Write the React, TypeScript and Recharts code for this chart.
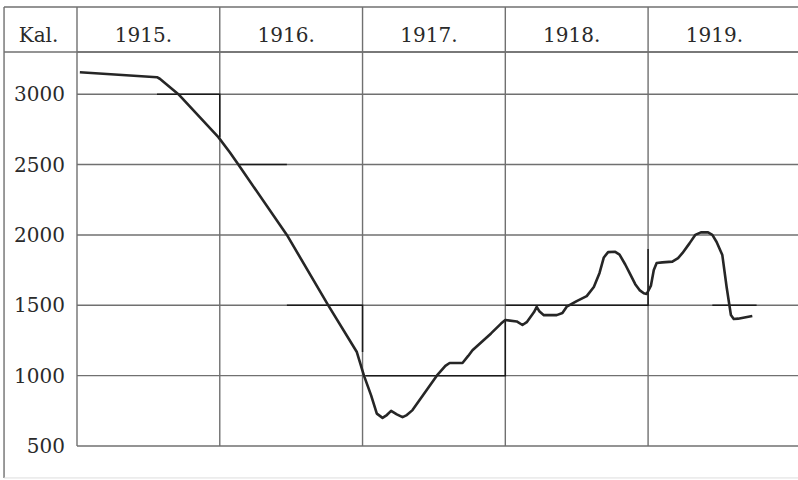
import { LineChart, Line, XAxis, YAxis, CartesianGrid, ReferenceLine } from "recharts";

// column boundaries and the header labels
const years = [1915, 1916, 1917, 1918, 1919];
const yearLabels = ["1915.", "1916.", "1917.", "1918.", "1919."];
const yTicks = [500, 1000, 1500, 2000, 2500, 3000];

// main curve (time in years, value in Kal.)
const times = [
  1915.02, 1915.56, 1915.58, 1915.71, 1915.99, 1916.07, 1916.13, 1916.47, 1916.76, 1916.96,
  1917.01, 1917.06, 1917.1, 1917.14, 1917.17, 1917.2, 1917.24, 1917.28, 1917.31, 1917.35,
  1917.52, 1917.58, 1917.61, 1917.7, 1917.74, 1917.77, 1917.9, 1917.97, 1918.0, 1918.08,
  1918.12, 1918.15, 1918.2, 1918.22, 1918.24, 1918.27, 1918.36, 1918.4, 1918.43, 1918.5,
  1918.57, 1918.62, 1918.66, 1918.69, 1918.72, 1918.77, 1918.8, 1918.84, 1918.87, 1918.91,
  1918.94, 1918.97, 1918.99, 1919.02, 1919.04, 1919.06, 1919.1, 1919.17, 1919.21, 1919.24,
  1919.29, 1919.33, 1919.37, 1919.42, 1919.45, 1919.48, 1919.52, 1919.55, 1919.58, 1919.6,
  1919.63, 1919.73,
];
const values = [
  3156, 3121, 3110, 3000, 2695, 2588, 2500, 2000, 1500, 1168,
  1000, 860, 730, 700, 720, 750, 725, 705, 720, 755,
  1000, 1070, 1090, 1090, 1140, 1180, 1300, 1370, 1395, 1385,
  1360, 1380, 1450, 1488, 1455, 1430, 1430, 1445, 1490, 1530,
  1565, 1630, 1730, 1840, 1878, 1880, 1860, 1790, 1730, 1650,
  1608, 1585, 1580, 1640, 1750, 1800, 1805, 1810, 1835, 1870,
  1940, 2000, 2018, 2018, 2000, 1950, 1857, 1630, 1431, 1403,
  1405, 1424,
];

// thin level segments (null breaks the line)
const levelTimes = [
  1915.56, 1916.0, 1916.0, 1916.05,
  1916.13, 1916.47, 1916.47,
  1916.47, 1917.0, 1917.0, 1917.01,
  1917.02, 1918.0, 1918.0, 1918.0,
  1918.0, 1919.0, 1919.0, 1919.2,
  1919.45, 1919.76,
];
const levelValues = [
  3000, 3000, 2695, null,
  2500, 2500, null,
  1500, 1500, 1168, null,
  1000, 1000, 1395, null,
  1500, 1500, 1900, null,
  1500, 1500,
];

const data = times.map((t, i) => ({ t, v: values[i] }));
const levels = levelTimes.map((t, i) => ({ t, s: levelValues[i] }));

const X_MIN = 1915;
const X_MAX = 1920.05;
const Y_MIN = 500;
const Y_MAX = 3300;
// frame edges outside the plot area, in data units
const FRAME_LEFT = 1914.489;
const FRAME_TOP = 3620;
const FRAME_BOTTOM = 273;

const gridColor = "#707070";
const font = "DejaVu Serif";
const textStyle = { fill: "#2a2a2a", fontSize: 20, fontFamily: font };

export default function App() {
  return (
    <div style={{ position: "absolute", left: 0, top: 0, background: "#fff" }}>
      <LineChart
        width={798}
        height={480}
        data={data}
        margin={{ top: 7, right: 0, left: 0, bottom: 34 }}
      >
        <CartesianGrid vertical={false} stroke={gridColor} strokeWidth={1.4} />
        <XAxis
          dataKey="t"
          type="number"
          orientation="top"
          domain={[X_MIN, X_MAX]}
          ticks={years.map((y) => y + 0.5)}
          tickFormatter={(v: number) => yearLabels[years.indexOf(Math.floor(v))]}
          height={45}
          axisLine={false}
          tickLine={false}
          tickSize={0}
          tickMargin={10}
          tick={{ ...textStyle, dx: -5 }}
          allowDataOverflow
        />
        <YAxis
          type="number"
          domain={[Y_MIN, Y_MAX]}
          ticks={yTicks}
          width={77}
          axisLine={false}
          tickLine={false}
          tickSize={0}
          tickMargin={12}
          tick={textStyle}
          label={{ value: "Kal.", position: "top", offset: 10, ...textStyle }}
          allowDataOverflow
        />
        {/* table frame */}
        {years.map((y) => (
          <ReferenceLine
            key={y}
            segment={[{ x: y, y: Y_MIN }, { x: y, y: FRAME_TOP }]}
            stroke={gridColor}
            strokeWidth={1.4}
            ifOverflow="visible"
          />
        ))}
        <ReferenceLine
          segment={[{ x: FRAME_LEFT, y: Y_MAX }, { x: X_MAX, y: Y_MAX }]}
          stroke={gridColor}
          strokeWidth={1.4}
          ifOverflow="visible"
        />
        <ReferenceLine
          segment={[{ x: FRAME_LEFT, y: FRAME_TOP }, { x: X_MAX, y: FRAME_TOP }]}
          stroke={gridColor}
          strokeWidth={1.4}
          ifOverflow="visible"
        />
        <ReferenceLine
          segment={[{ x: FRAME_LEFT, y: FRAME_BOTTOM }, { x: FRAME_LEFT, y: FRAME_TOP }]}
          stroke={gridColor}
          strokeWidth={1.4}
          ifOverflow="visible"
        />
        <ReferenceLine
          segment={[{ x: FRAME_LEFT, y: FRAME_BOTTOM }, { x: X_MAX, y: FRAME_BOTTOM }]}
          stroke="#ddd"
          strokeWidth={1}
          ifOverflow="visible"
        />
        <Line
          data={levels}
          dataKey="s"
          type="linear"
          stroke="#1a1a1a"
          strokeWidth={1.5}
          dot={false}
          connectNulls={false}
          isAnimationActive={false}
        />
        <Line
          dataKey="v"
          type="linear"
          stroke="#262626"
          strokeWidth={2.6}
          strokeLinejoin="round"
          dot={false}
          isAnimationActive={false}
        />
      </LineChart>
    </div>
  );
}
